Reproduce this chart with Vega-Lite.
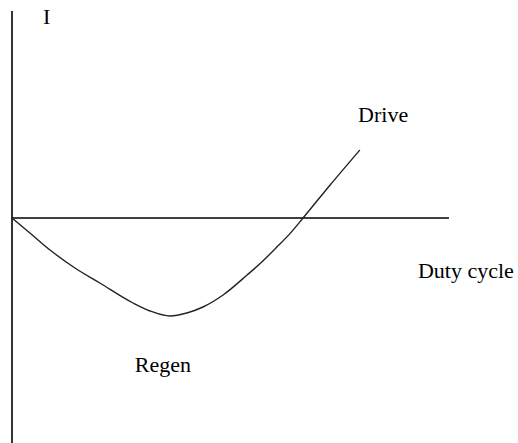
{
  "$schema": "https://vega.github.io/schema/vega-lite/v6.json",
  "width": 518,
  "height": 443,
  "autosize": {"type": "none"},
  "padding": 0,
  "background": "white",
  "config": {"view": {"stroke": null}},
  "datasets": {
    "vaxis": [{"x": 0, "y": 103.5, "y2": -112.5}],
    "haxis": [{"y": 0, "x": 0, "x2": 100}],
    "curve": [
      {"duty": 0, "I": 0},
      {"duty": 4.1, "I": -7.5},
      {"duty": 8.7, "I": -16},
      {"duty": 14.4, "I": -25},
      {"duty": 20.1, "I": -32.5},
      {"duty": 27.7, "I": -42.5},
      {"duty": 31.6, "I": -46.5},
      {"duty": 36.2, "I": -49},
      {"duty": 40.0, "I": -47.5},
      {"duty": 43.7, "I": -44.5},
      {"duty": 48.3, "I": -38.5},
      {"duty": 53.8, "I": -28.5},
      {"duty": 57.4, "I": -21.5},
      {"duty": 60.4, "I": -15},
      {"duty": 63.6, "I": -7.8},
      {"duty": 66.6, "I": 0},
      {"duty": 72.8, "I": 16.5},
      {"duty": 79.6, "I": 34}
    ],
    "labels": [
      {"duty": 7.1, "I": 97, "text": "I"},
      {"duty": 79.2, "I": 48, "text": "Drive"},
      {"duty": 92.9, "I": -30, "text": "Duty cycle"},
      {"duty": 28.1, "I": -77, "text": "Regen"}
    ]
  },
  "layer": [
    {
      "data": {"name": "vaxis"},
      "mark": {"type": "rule", "color": "#333333", "strokeWidth": 2},
      "encoding": {
        "x": {"field": "x", "type": "quantitative", "scale": {"domain": [-2.746, 115.79], "nice": false, "zero": false}, "axis": null},
        "y": {"field": "y", "type": "quantitative", "scale": {"domain": [-112.5, 109], "nice": false, "zero": false}, "axis": null},
        "y2": {"field": "y2"}
      }
    },
    {
      "data": {"name": "haxis"},
      "mark": {"type": "rule", "color": "#000000", "strokeWidth": 1.6},
      "encoding": {
        "x": {"field": "x", "type": "quantitative"},
        "x2": {"field": "x2"},
        "y": {"field": "y", "type": "quantitative"}
      }
    },
    {
      "data": {"name": "curve"},
      "mark": {"type": "line", "interpolate": "monotone", "color": "#222222", "strokeWidth": 1.4},
      "encoding": {
        "x": {"field": "duty", "type": "quantitative"},
        "y": {"field": "I", "type": "quantitative"}
      }
    },
    {
      "data": {"name": "labels"},
      "mark": {"type": "text", "align": "left", "baseline": "alphabetic", "font": "Liberation Serif", "fontSize": 22, "color": "#000000"},
      "encoding": {
        "x": {"field": "duty", "type": "quantitative"},
        "y": {"field": "I", "type": "quantitative"},
        "text": {"field": "text"}
      }
    }
  ]
}
